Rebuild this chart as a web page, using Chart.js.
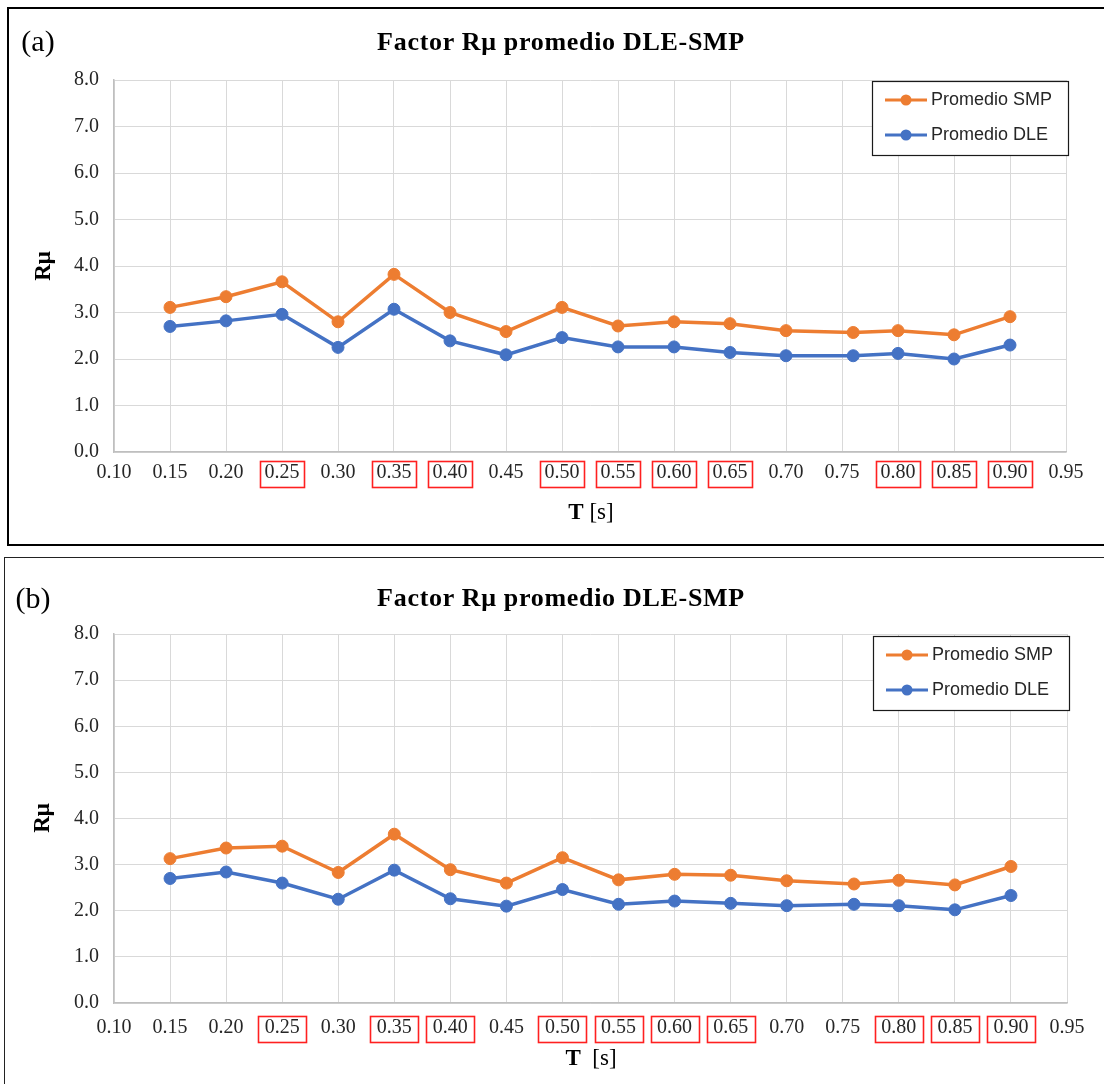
<!DOCTYPE html>
<html>
<head>
<meta charset="utf-8">
<script src="https://cdn.jsdelivr.net/npm/chart.js@4.4.0/dist/chart.umd.min.js"></script>
<style>
  html, body { margin: 0; padding: 0; background: #fff; }
  body { width: 1104px; height: 1084px; position: relative; overflow: hidden; font-family: "Liberation Serif", serif; }
  canvas { position: absolute; left: 0; }
  .frame { position: absolute; box-sizing: border-box; pointer-events: none; }
  .lbl { position: absolute; white-space: nowrap; color: #000; line-height: 1; transform: translate(-50%, -50%); }
  .panel { font-size: 30px; }
  .title { font-size: 26px; font-weight: bold; letter-spacing: 0.7px; }
  .ylab { font-size: 23px; font-weight: bold; transform: translate(-50%, -50%) rotate(-90deg); }
  .xlab { font-size: 23px; }
</style>
</head>
<body>
<div class="frame" style="left:7px; top:7px; width:1120px; height:539px; border:2px solid #000;"></div>
<div class="frame" style="left:4px; top:557px; width:1120px; height:600px; border:1.5px solid #222;"></div>

<canvas id="chartA" width="1104" height="545" style="top:0px"></canvas>
<canvas id="chartB" width="1104" height="529" style="top:555px"></canvas>

<div class="lbl panel" style="left:38px; top:41px;">(a)</div>
<div class="lbl title" style="left:561px; top:42px;">Factor Rμ promedio DLE-SMP</div>
<div class="lbl ylab" style="left:42px; top:266px;">Rμ</div>
<div class="lbl xlab" style="left:591px; top:511px;"><b>T</b> [s]</div>

<div class="lbl panel" style="left:33px; top:598px;">(b)</div>
<div class="lbl title" style="left:561px; top:598px;">Factor Rμ promedio DLE-SMP</div>
<div class="lbl ylab" style="left:41px; top:818px;">Rμ</div>
<div class="lbl xlab" style="left:591px; top:1057px;"><b>T</b>&nbsp; [s]</div>

<script>
// periods T [s] (the 0.75 point sits slightly right of its gridline)
const periods = [0.15, 0.20, 0.25, 0.30, 0.35, 0.40, 0.45, 0.50, 0.55, 0.60, 0.65, 0.70, 0.76, 0.80, 0.85, 0.90];

// panel (a)
const smpA = [3.11, 3.34, 3.66, 2.80, 3.82, 3.00, 2.59, 3.11, 2.71, 2.80, 2.76, 2.61, 2.57, 2.61, 2.52, 2.91];
const dleA = [2.70, 2.82, 2.96, 2.25, 3.07, 2.39, 2.09, 2.46, 2.26, 2.26, 2.14, 2.07, 2.07, 2.12, 2.00, 2.30];

// panel (b)
const smpB = [3.13, 3.36, 3.40, 2.83, 3.66, 2.89, 2.60, 3.15, 2.67, 2.79, 2.77, 2.65, 2.58, 2.66, 2.56, 2.96];
const dleB = [2.70, 2.84, 2.60, 2.25, 2.88, 2.26, 2.10, 2.46, 2.14, 2.21, 2.16, 2.11, 2.14, 2.11, 2.02, 2.33];

const seriesNames = ["Promedio SMP", "Promedio DLE"];
const xTicks = [0.10, 0.15, 0.20, 0.25, 0.30, 0.35, 0.40, 0.45, 0.50, 0.55, 0.60, 0.65, 0.70, 0.75, 0.80, 0.85, 0.90, 0.95];
const yTicks = [0, 1, 2, 3, 4, 5, 6, 7, 8];
// tick labels boxed in red
const marked = [0.25, 0.35, 0.40, 0.50, 0.55, 0.60, 0.65, 0.80, 0.85, 0.90];

const ORANGE = "#ed7d31";
const BLUE = "#4472c4";

Chart.defaults.font.family = "'Liberation Serif', serif";
Chart.defaults.color = "#262626";

// red boxes on the tick labels + boxed legend in the top right
const extras = {
  id: "extras",
  afterDraw(chart, args, opts) {
    const ctx = chart.ctx;
    const area = chart.chartArea;
    const xs = chart.scales.x;

    ctx.save();
    ctx.strokeStyle = "#ff2020";
    ctx.lineWidth = 1.6;
    marked.forEach(v => {
      const cx = xs.getPixelForValue(v);
      ctx.strokeRect(Math.round(cx - opts.boxW / 2) + 0.5, Math.round(area.bottom + opts.boxDy - 13) + 0.5, opts.boxW, 26);
    });

    const w = 196, h = 74;
    const lx = area.right + 2 - w;
    const ly = area.top + opts.legendDy;
    ctx.fillStyle = "#fff";
    ctx.fillRect(lx, ly, w, h);
    ctx.strokeStyle = "#1a1a1a";
    ctx.lineWidth = 1.2;
    ctx.strokeRect(lx + 0.5, ly + 0.5, w, h);

    ctx.font = "18px 'Liberation Sans', sans-serif";
    ctx.textBaseline = "middle";
    chart.data.datasets.forEach((ds, i) => {
      const y = ly + 19 + i * 35;
      ctx.strokeStyle = ds.borderColor;
      ctx.lineWidth = 3;
      ctx.beginPath();
      ctx.moveTo(lx + 13, y);
      ctx.lineTo(lx + 55, y);
      ctx.stroke();
      ctx.fillStyle = ds.borderColor;
      ctx.beginPath();
      ctx.arc(lx + 34, y, 5.5, 0, Math.PI * 2);
      ctx.fill();
      ctx.fillStyle = "#262626";
      ctx.fillText(ds.label, lx + 59, y);
    });
    ctx.restore();
  }
};

function series(label, values, color) {
  return {
    label: label,
    data: values.map((v, i) => ({ x: periods[i], y: v })),
    borderColor: color,
    backgroundColor: color,
    borderWidth: 3.5,
    pointRadius: 6,
    pointBorderWidth: 1,
    pointBackgroundColor: color,
    showLine: true,
    tension: 0
  };
}

function makeChart(id, smp, dle, lay) {
  new Chart(document.getElementById(id), {
    type: "scatter",
    data: {
      datasets: [
        series(seriesNames[0], smp, ORANGE),
        series(seriesNames[1], dle, BLUE)
      ]
    },
    options: {
      responsive: false,
      animation: false,
      devicePixelRatio: 1,
      layout: { padding: { top: lay.top, right: lay.right, bottom: 0, left: 0 } },
      plugins: {
        legend: { display: false },
        tooltip: { enabled: false },
        title: { display: false },
        extras: { boxW: lay.boxW, boxDy: lay.boxDy, legendDy: lay.legendDy }
      },
      scales: {
        x: {
          type: "linear",
          min: 0.10,
          max: 0.95,
          afterBuildTicks: s => { s.ticks = xTicks.map(v => ({ value: v })); },
          afterFit: s => { s.height = lay.xHeight; },
          grid: { color: "#d9d9d9", drawTicks: false },
          border: { color: "#bfbfbf", width: 1.5 },
          ticks: {
            padding: lay.xPad,
            maxRotation: 0,
            autoSkip: false,
            font: { size: 20 },
            callback: v => Number(v).toFixed(2)
          }
        },
        y: {
          min: 0,
          max: 8,
          afterBuildTicks: s => { s.ticks = yTicks.map(v => ({ value: v })); },
          afterFit: s => { s.width = 114; },
          grid: { color: "#d9d9d9", drawTicks: false },
          border: { color: "#bfbfbf", width: 1.5 },
          ticks: {
            padding: 15,
            font: { size: 20 },
            callback: v => Number(v).toFixed(1)
          }
        }
      }
    },
    plugins: [extras]
  });
}

makeChart("chartA", smpA, dleA, { top: 80, right: 38, xHeight: 93, xPad: 9, boxW: 44, boxDy: 22, legendDy: 1 });
makeChart("chartB", smpB, dleB, { top: 79, right: 37, xHeight: 81, xPad: 13, boxW: 48, boxDy: 26, legendDy: 2 });
</script>
</body>
</html>
